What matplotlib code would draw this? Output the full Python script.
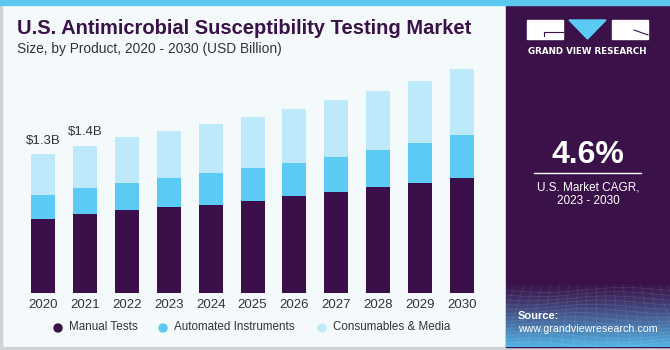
import numpy as np
import matplotlib
matplotlib.use("Agg")
import matplotlib.pyplot as plt
from matplotlib.patches import Rectangle, Polygon

years = ["2020", "2021", "2022", "2023", "2024", "2025", "2026", "2027", "2028", "2029", "2030"]
manual_tests = [0.692, 0.736, 0.774, 0.802, 0.826, 0.863, 0.905, 0.945, 0.989, 1.032, 1.079]
automated_instruments = [0.227, 0.246, 0.255, 0.274, 0.294, 0.306, 0.314, 0.327, 0.349, 0.371, 0.399]
consumables_media = [0.381, 0.396, 0.427, 0.442, 0.458, 0.477, 0.505, 0.533, 0.552, 0.580, 0.615]
series_names = ["Manual Tests", "Automated Instruments", "Consumables & Media"]
bar_labels = {0: "$1.3B", 1: "$1.4B"}
cagr_text = "4.6%"

C_MANUAL = "#3a0f4a"
C_AUTO = "#5bcbf5"
C_CONS = "#bde9fa"
C_PANEL = "#3a1148"
C_BG = "#f4f9fc"
C_TEXT = "#333333"

W, H = 670, 350
fig = plt.figure(figsize=(W / 100, H / 100), dpi=100)
fig.patch.set_facecolor(C_BG)

# overlay axes in pixel coords (y from top)
ov = fig.add_axes([0, 0, 1, 1], zorder=-1)
ov.set_xlim(0, W)
ov.set_ylim(H, 0)
ov.axis("off")
ov.add_patch(Rectangle((0, 0), W, H, color=C_BG))
# borders
ov.add_patch(Rectangle((0, 0), 1.5, H, color="#cfd3d6"))
ov.add_patch(Rectangle((0, H - 3), W, 3, color="#cfd3d6"))
# right panel
ov.add_patch(Rectangle((506, 0), W - 506, H - 3, color=C_PANEL))
# gradient at bottom of panel
grad = np.linspace(0, 1, 100)[:, None]
c0 = np.array(matplotlib.colors.to_rgb(C_PANEL))
c1 = np.array(matplotlib.colors.to_rgb("#52b4e6"))
img = c0[None, None, :] * (1 - grad[..., None] ** 1.2) + c1[None, None, :] * (grad[..., None] ** 1.2)
img = np.repeat(img, 2, axis=1)
ov.imshow(img, extent=(506, W, H - 3, 282), aspect="auto", zorder=1, interpolation="bilinear")
# faint mesh lines
for k in range(14):
    yy = 290 + k * 4.2
    xs = np.linspace(506, W, 40)
    ov.plot(xs, yy + 2.5 * np.sin((xs - 506) / 25 + k * 0.3), color="white", alpha=0.12, lw=0.5, zorder=2)
for k in range(20):
    x0 = 506 + k * 9
    ov.plot([x0, x0 + (k - 10) * 2.5], [285, H - 3], color="white", alpha=0.10, lw=0.5, zorder=2)
# top stripe
ov.add_patch(Rectangle((0, 0), W, 5, color="#5bc8f2", zorder=3))

# logo
ov.add_patch(Rectangle((527, 20), 36, 19, color="white", zorder=3))
ov.add_patch(Rectangle((612, 20), 36, 19, color="white", zorder=3))
ov.add_patch(Polygon([(569, 20), (606, 20), (587.5, 39)], closed=True, color=C_AUTO, zorder=3))
ov.plot([544, 563], [32, 32], color=C_PANEL, lw=0.8, zorder=4)
ov.plot([544, 544], [32, 36], color=C_PANEL, lw=0.8, zorder=4)
ov.plot([634, 648], [30, 35], color=C_PANEL, lw=0.8, zorder=4)
ov.text(587.5, 51, "GRAND VIEW RESEARCH", color="white", fontsize=6.3, fontweight="bold",
        ha="center", va="center", family="DejaVu Sans", zorder=4)

# CAGR
ov.text(588, 155, cagr_text, color="white", fontsize=23, fontweight="bold",
        ha="center", va="center", family="Liberation Sans", zorder=4)
ov.plot([534, 641], [173, 173], color="white", lw=1, zorder=4)
ov.text(588, 187, "U.S. Market CAGR,", color="white", fontsize=8.5,
        ha="center", va="center", family="Liberation Sans", zorder=4)
ov.text(588, 201, "2023 - 2030", color="white", fontsize=8.5,
        ha="center", va="center", family="Liberation Sans", zorder=4)
ov.text(518, 316, "Source:", color="white", fontsize=8, fontweight="bold",
        ha="left", va="center", family="Liberation Sans", zorder=4)
ov.text(518, 329.5, "www.grandviewresearch.com", color="white", fontsize=7.7,
        ha="left", va="center", family="Liberation Sans", zorder=4)

# titles
ov.text(17, 29, "U.S. Antimicrobial Susceptibility Testing Market", color=C_PANEL,
        fontsize=14.5, fontweight="bold", ha="left", va="center", family="Liberation Sans")
ov.text(17, 49, "Size, by Product, 2020 - 2030 (USD Billion)", color=C_TEXT,
        fontsize=9.9, ha="left", va="center", family="Liberation Sans")

# legend
leg_items = [(58, C_MANUAL), (163, C_AUTO), (322, C_CONS)]
for (lx, col), name in zip(leg_items, series_names):
    ov.add_patch(matplotlib.patches.Circle((lx, 328), 4, color=col))
    ov.text(lx + 11, 327.5, name, color=C_TEXT, fontsize=8.4, ha="left", va="center",
            family="Liberation Sans")

# bar chart axes
px_per_unit = 106.9
left = 22.05
right = 482.95
base = 293
ymax = 2.2
ax = fig.add_axes([left / W, (H - base) / H, (right - left) / W, ymax * px_per_unit / H])
ax.set_facecolor("none")
x = np.arange(len(years))
bw = 24 / 41.9
m = np.array(manual_tests)
a = np.array(automated_instruments)
c = np.array(consumables_media)
ax.bar(x, m, bw, color=C_MANUAL, edgecolor="none")
ax.bar(x, a, bw, bottom=m, color=C_AUTO, edgecolor="none")
ax.bar(x, c, bw, bottom=m + a, color=C_CONS, edgecolor="none")
tot = m + a + c
for i, lab in bar_labels.items():
    ax.text(i, tot[i] + 0.07, lab, ha="center", va="bottom", fontsize=9.5, color=C_TEXT,
            family="Liberation Sans")
ax.set_xlim(-0.5, len(years) - 0.5)
ax.set_ylim(0, ymax)
ax.set_xticks(x)
ax.set_xticklabels(years, fontsize=9.5, color=C_TEXT, family="Liberation Sans")
ax.tick_params(axis="x", length=0, pad=4)
ax.set_yticks([])
for s in ax.spines.values():
    s.set_visible(False)

fig.savefig("out.png", dpi=100, facecolor=C_BG)
